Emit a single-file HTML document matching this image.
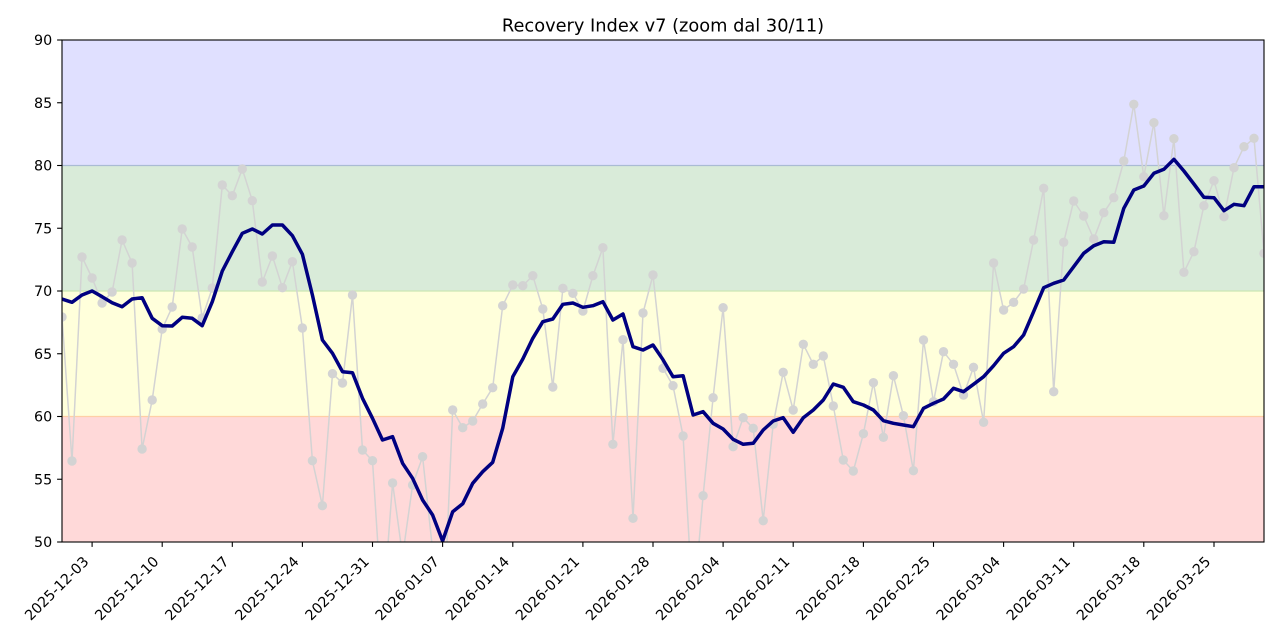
<!DOCTYPE html>
<html><head><meta charset="utf-8"><style>
html,body{margin:0;padding:0;background:#fff;}
svg{display:block;}
text{font-family:"DejaVu Sans","Liberation Sans",sans-serif;fill:#000;}
</style></head><body>
<svg width="1280" height="640" viewBox="0 0 1280 640" xmlns="http://www.w3.org/2000/svg">
<defs><clipPath id="pc"><rect x="62" y="40" width="1202" height="502"/></clipPath></defs>
<rect width="1280" height="640" fill="#fff"/>
<text x="663" y="31.5" font-size="17.8" text-anchor="middle">Recovery Index v7 (zoom dal 30/11)</text>
<g clip-path="url(#pc)">
<rect x="62" y="40" width="1202" height="125.5" fill="#e0e0ff"/>
<rect x="62" y="165.5" width="1202" height="125.5" fill="#d9ebd9"/>
<rect x="62" y="291" width="1202" height="125.5" fill="#ffffdb"/>
<rect x="62" y="416.5" width="1202" height="125.5" fill="#ffd9d9"/>
<line x1="62" x2="1264" y1="165.5" y2="165.5" stroke="#aabbd4" stroke-width="1.3"/>
<line x1="62" x2="1264" y1="291" y2="291" stroke="#cce6b4" stroke-width="1.3"/>
<line x1="62" x2="1264" y1="416.5" y2="416.5" stroke="#ffcfa6" stroke-width="1.3"/>
<polyline fill="none" stroke="#d3d3d3" stroke-width="1.5" stroke-linejoin="round" points="62.0,317 72.0,461 82.0,257 92.1,278 102.1,303 112.1,292 122.1,240 132.1,263 142.1,449 152.2,400 162.2,329 172.2,307 182.2,229 192.2,247 202.2,318 212.3,288 222.3,185 232.3,195.7 242.3,169 252.3,200.7 262.3,282 272.4,256 282.4,287.7 292.4,261.7 302.4,328 312.4,460.7 322.4,505.7 332.5,373.7 342.5,383 352.5,295 362.5,450 372.5,460.7 382.5,617 392.6,483 402.6,556 412.6,485 422.6,456.7 432.6,550 442.6,644 452.7,410 462.7,427.7 472.7,421 482.7,404 492.7,387.7 502.7,305.7 512.8,285 522.8,285.7 532.8,275.7 542.8,309 552.8,387 562.9,288.3 572.9,293.3 582.9,311 592.9,275.7 602.9,247.7 612.9,444.3 623.0,339.7 633.0,518.3 643.0,313 653.0,275 663.0,368.3 673.0,385.7 683.1,436 693.1,611 703.1,495.7 713.1,397.7 723.1,307.7 733.1,446.7 743.2,417.7 753.2,428.3 763.2,520.7 773.2,424.3 783.2,372.3 793.2,410 803.3,344.3 813.3,364.3 823.3,356 833.3,406 843.3,460 853.3,471 863.4,433.7 873.4,382.7 883.4,437.3 893.4,375.7 903.4,415.7 913.4,470.7 923.5,340 933.5,401.7 943.5,351.7 953.5,364.3 963.5,395 973.5,367.3 983.6,422.3 993.6,263 1003.6,310 1013.6,302.3 1023.6,289 1033.6,240 1043.7,188.3 1053.7,391.7 1063.7,242.3 1073.7,201 1083.7,216 1093.8,239 1103.8,212.7 1113.8,197.7 1123.8,161 1133.8,104.3 1143.8,176.7 1153.9,122.7 1163.9,215.7 1173.9,138.7 1183.9,272.3 1193.9,251.7 1203.9,205.7 1214.0,180.7 1224.0,216.7 1234.0,167.7 1244.0,146.7 1254.0,138.3 1264.0,253.3"/>
<g fill="#d3d3d3">
<circle cx="62.0" cy="317" r="4.7"/><circle cx="72.0" cy="461" r="4.7"/><circle cx="82.0" cy="257" r="4.7"/><circle cx="92.1" cy="278" r="4.7"/><circle cx="102.1" cy="303" r="4.7"/><circle cx="112.1" cy="292" r="4.7"/><circle cx="122.1" cy="240" r="4.7"/><circle cx="132.1" cy="263" r="4.7"/><circle cx="142.1" cy="449" r="4.7"/><circle cx="152.2" cy="400" r="4.7"/>
<circle cx="162.2" cy="329" r="4.7"/><circle cx="172.2" cy="307" r="4.7"/><circle cx="182.2" cy="229" r="4.7"/><circle cx="192.2" cy="247" r="4.7"/><circle cx="202.2" cy="318" r="4.7"/><circle cx="212.3" cy="288" r="4.7"/><circle cx="222.3" cy="185" r="4.7"/><circle cx="232.3" cy="195.7" r="4.7"/><circle cx="242.3" cy="169" r="4.7"/><circle cx="252.3" cy="200.7" r="4.7"/>
<circle cx="262.3" cy="282" r="4.7"/><circle cx="272.4" cy="256" r="4.7"/><circle cx="282.4" cy="287.7" r="4.7"/><circle cx="292.4" cy="261.7" r="4.7"/><circle cx="302.4" cy="328" r="4.7"/><circle cx="312.4" cy="460.7" r="4.7"/><circle cx="322.4" cy="505.7" r="4.7"/><circle cx="332.5" cy="373.7" r="4.7"/><circle cx="342.5" cy="383" r="4.7"/><circle cx="352.5" cy="295" r="4.7"/>
<circle cx="362.5" cy="450" r="4.7"/><circle cx="372.5" cy="460.7" r="4.7"/><circle cx="382.5" cy="617" r="4.7"/><circle cx="392.6" cy="483" r="4.7"/><circle cx="402.6" cy="556" r="4.7"/><circle cx="412.6" cy="485" r="4.7"/><circle cx="422.6" cy="456.7" r="4.7"/><circle cx="432.6" cy="550" r="4.7"/><circle cx="442.6" cy="644" r="4.7"/><circle cx="452.7" cy="410" r="4.7"/>
<circle cx="462.7" cy="427.7" r="4.7"/><circle cx="472.7" cy="421" r="4.7"/><circle cx="482.7" cy="404" r="4.7"/><circle cx="492.7" cy="387.7" r="4.7"/><circle cx="502.7" cy="305.7" r="4.7"/><circle cx="512.8" cy="285" r="4.7"/><circle cx="522.8" cy="285.7" r="4.7"/><circle cx="532.8" cy="275.7" r="4.7"/><circle cx="542.8" cy="309" r="4.7"/><circle cx="552.8" cy="387" r="4.7"/>
<circle cx="562.9" cy="288.3" r="4.7"/><circle cx="572.9" cy="293.3" r="4.7"/><circle cx="582.9" cy="311" r="4.7"/><circle cx="592.9" cy="275.7" r="4.7"/><circle cx="602.9" cy="247.7" r="4.7"/><circle cx="612.9" cy="444.3" r="4.7"/><circle cx="623.0" cy="339.7" r="4.7"/><circle cx="633.0" cy="518.3" r="4.7"/><circle cx="643.0" cy="313" r="4.7"/><circle cx="653.0" cy="275" r="4.7"/>
<circle cx="663.0" cy="368.3" r="4.7"/><circle cx="673.0" cy="385.7" r="4.7"/><circle cx="683.1" cy="436" r="4.7"/><circle cx="693.1" cy="611" r="4.7"/><circle cx="703.1" cy="495.7" r="4.7"/><circle cx="713.1" cy="397.7" r="4.7"/><circle cx="723.1" cy="307.7" r="4.7"/><circle cx="733.1" cy="446.7" r="4.7"/><circle cx="743.2" cy="417.7" r="4.7"/><circle cx="753.2" cy="428.3" r="4.7"/>
<circle cx="763.2" cy="520.7" r="4.7"/><circle cx="773.2" cy="424.3" r="4.7"/><circle cx="783.2" cy="372.3" r="4.7"/><circle cx="793.2" cy="410" r="4.7"/><circle cx="803.3" cy="344.3" r="4.7"/><circle cx="813.3" cy="364.3" r="4.7"/><circle cx="823.3" cy="356" r="4.7"/><circle cx="833.3" cy="406" r="4.7"/><circle cx="843.3" cy="460" r="4.7"/><circle cx="853.3" cy="471" r="4.7"/>
<circle cx="863.4" cy="433.7" r="4.7"/><circle cx="873.4" cy="382.7" r="4.7"/><circle cx="883.4" cy="437.3" r="4.7"/><circle cx="893.4" cy="375.7" r="4.7"/><circle cx="903.4" cy="415.7" r="4.7"/><circle cx="913.4" cy="470.7" r="4.7"/><circle cx="923.5" cy="340" r="4.7"/><circle cx="933.5" cy="401.7" r="4.7"/><circle cx="943.5" cy="351.7" r="4.7"/><circle cx="953.5" cy="364.3" r="4.7"/>
<circle cx="963.5" cy="395" r="4.7"/><circle cx="973.5" cy="367.3" r="4.7"/><circle cx="983.6" cy="422.3" r="4.7"/><circle cx="993.6" cy="263" r="4.7"/><circle cx="1003.6" cy="310" r="4.7"/><circle cx="1013.6" cy="302.3" r="4.7"/><circle cx="1023.6" cy="289" r="4.7"/><circle cx="1033.6" cy="240" r="4.7"/><circle cx="1043.7" cy="188.3" r="4.7"/><circle cx="1053.7" cy="391.7" r="4.7"/>
<circle cx="1063.7" cy="242.3" r="4.7"/><circle cx="1073.7" cy="201" r="4.7"/><circle cx="1083.7" cy="216" r="4.7"/><circle cx="1093.8" cy="239" r="4.7"/><circle cx="1103.8" cy="212.7" r="4.7"/><circle cx="1113.8" cy="197.7" r="4.7"/><circle cx="1123.8" cy="161" r="4.7"/><circle cx="1133.8" cy="104.3" r="4.7"/><circle cx="1143.8" cy="176.7" r="4.7"/><circle cx="1153.9" cy="122.7" r="4.7"/>
<circle cx="1163.9" cy="215.7" r="4.7"/><circle cx="1173.9" cy="138.7" r="4.7"/><circle cx="1183.9" cy="272.3" r="4.7"/><circle cx="1193.9" cy="251.7" r="4.7"/><circle cx="1203.9" cy="205.7" r="4.7"/><circle cx="1214.0" cy="180.7" r="4.7"/><circle cx="1224.0" cy="216.7" r="4.7"/><circle cx="1234.0" cy="167.7" r="4.7"/><circle cx="1244.0" cy="146.7" r="4.7"/><circle cx="1254.0" cy="138.3" r="4.7"/>
<circle cx="1264.0" cy="253.3" r="4.7"/>
</g>
<polyline fill="none" stroke="#000080" stroke-width="3.5" stroke-linejoin="round" stroke-linecap="butt" points="62.0,299 72.0,302.3 82.0,295 92.1,291 102.1,296.7 112.1,302.7 122.1,306.7 132.1,299 142.1,297.7 152.2,318.3 162.2,325.7 172.2,326 182.2,317.3 192.2,318.3 202.2,325.7 212.3,301.7 222.3,271 232.3,251.7 242.3,233.3 252.3,229 262.3,234 272.4,225 282.4,225 292.4,235.7 302.4,254.3 312.4,295 322.4,340 332.5,353.3 342.5,371.7 352.5,372.7 362.5,398.3 372.5,418.3 382.5,440 392.6,436.7 402.6,463.3 412.6,478.3 422.6,500 432.6,515 442.6,541 452.7,511.7 462.7,503.8 472.7,483.3 482.7,471.7 492.7,462.3 502.7,428.3 512.8,376.7 522.8,359 532.8,338.3 542.8,321.7 552.8,319 562.9,304.3 572.9,303 582.9,307.3 592.9,305.7 602.9,301.7 612.9,320 623.0,314 633.0,346.7 643.0,350 653.0,345 663.0,359.7 673.0,376.7 683.1,375.7 693.1,415 703.1,411.7 713.1,423.3 723.1,429 733.1,439.3 743.2,444.3 753.2,443.3 763.2,430 773.2,421 783.2,417.7 793.2,432.3 803.3,417.7 813.3,410 823.3,400 833.3,384 843.3,387.3 853.3,401.7 863.4,405 873.4,410 883.4,420.7 893.4,423.3 903.4,425 913.4,426.7 923.5,408.3 933.5,403.3 943.5,399 953.5,388.3 963.5,391.7 973.5,384.3 983.6,376.7 993.6,365.7 1003.6,353.3 1013.6,346.7 1023.6,335 1033.6,311.7 1043.7,287.7 1053.7,283.3 1063.7,280 1073.7,266.7 1083.7,253.3 1093.8,245.7 1103.8,241.7 1113.8,242.3 1123.8,208.3 1133.8,190 1143.8,186 1153.9,173.3 1163.9,169.3 1173.9,159.3 1183.9,171 1193.9,184 1203.9,197.3 1214.0,197.7 1224.0,210.7 1234.0,204.3 1244.0,205.7 1254.0,186.7 1264.0,186.7"/>
</g>
<rect x="62" y="40" width="1202" height="502" fill="none" stroke="#000" stroke-width="1.1"/>
<g stroke="#000" stroke-width="1.1">
<line x1="57.1" x2="62" y1="542" y2="542"/><line x1="57.1" x2="62" y1="479.25" y2="479.25"/><line x1="57.1" x2="62" y1="416.5" y2="416.5"/><line x1="57.1" x2="62" y1="353.75" y2="353.75"/><line x1="57.1" x2="62" y1="291" y2="291"/><line x1="57.1" x2="62" y1="228.25" y2="228.25"/><line x1="57.1" x2="62" y1="165.5" y2="165.5"/><line x1="57.1" x2="62" y1="102.75" y2="102.75"/><line x1="57.1" x2="62" y1="40" y2="40"/>
<line x1="92.1" x2="92.1" y1="542" y2="546.9"/><line x1="162.2" x2="162.2" y1="542" y2="546.9"/><line x1="232.3" x2="232.3" y1="542" y2="546.9"/><line x1="302.4" x2="302.4" y1="542" y2="546.9"/><line x1="372.5" x2="372.5" y1="542" y2="546.9"/><line x1="442.6" x2="442.6" y1="542" y2="546.9"/><line x1="512.8" x2="512.8" y1="542" y2="546.9"/><line x1="582.9" x2="582.9" y1="542" y2="546.9"/><line x1="653.0" x2="653.0" y1="542" y2="546.9"/><line x1="723.1" x2="723.1" y1="542" y2="546.9"/><line x1="793.2" x2="793.2" y1="542" y2="546.9"/><line x1="863.4" x2="863.4" y1="542" y2="546.9"/><line x1="933.5" x2="933.5" y1="542" y2="546.9"/><line x1="1003.6" x2="1003.6" y1="542" y2="546.9"/><line x1="1073.7" x2="1073.7" y1="542" y2="546.9"/><line x1="1143.8" x2="1143.8" y1="542" y2="546.9"/><line x1="1214.0" x2="1214.0" y1="542" y2="546.9"/>
</g>
<g font-size="14.3" text-anchor="end">
<text x="52.2" y="547.2">50</text><text x="52.2" y="484.4">55</text><text x="52.2" y="421.7">60</text><text x="52.2" y="358.9">65</text><text x="52.2" y="296.2">70</text><text x="52.2" y="233.4">75</text><text x="52.2" y="170.7">80</text><text x="52.2" y="107.9">85</text><text x="52.2" y="45.2">90</text>
<text transform="translate(89.5,562.5) rotate(-45)">2025-12-03</text>
<text transform="translate(159.6,562.5) rotate(-45)">2025-12-10</text>
<text transform="translate(229.7,562.5) rotate(-45)">2025-12-17</text>
<text transform="translate(299.8,562.5) rotate(-45)">2025-12-24</text>
<text transform="translate(369.9,562.5) rotate(-45)">2025-12-31</text>
<text transform="translate(440,562.5) rotate(-45)">2026-01-07</text>
<text transform="translate(510.2,562.5) rotate(-45)">2026-01-14</text>
<text transform="translate(580.3,562.5) rotate(-45)">2026-01-21</text>
<text transform="translate(650.4,562.5) rotate(-45)">2026-01-28</text>
<text transform="translate(720.5,562.5) rotate(-45)">2026-02-04</text>
<text transform="translate(790.6,562.5) rotate(-45)">2026-02-11</text>
<text transform="translate(860.8,562.5) rotate(-45)">2026-02-18</text>
<text transform="translate(930.9,562.5) rotate(-45)">2026-02-25</text>
<text transform="translate(1001,562.5) rotate(-45)">2026-03-04</text>
<text transform="translate(1071.1,562.5) rotate(-45)">2026-03-11</text>
<text transform="translate(1141.2,562.5) rotate(-45)">2026-03-18</text>
<text transform="translate(1211.4,562.5) rotate(-45)">2026-03-25</text>
</g>
</svg>
</body></html>
